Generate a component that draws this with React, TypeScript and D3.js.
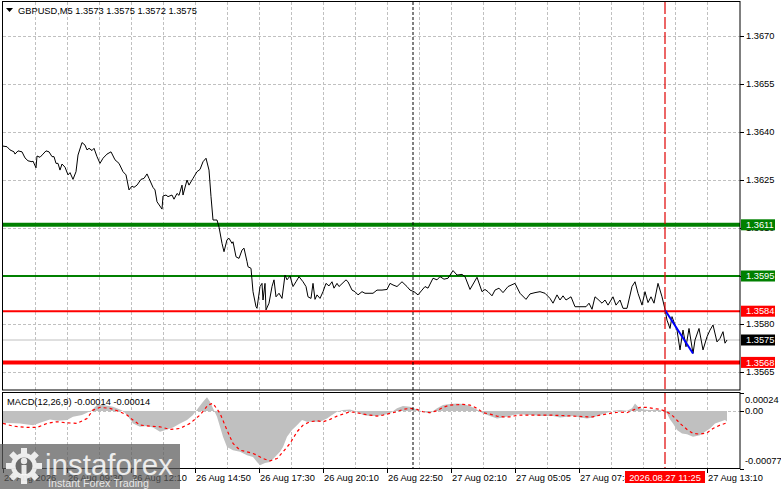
import React from 'react';
import * as d3 from 'd3';

// chart data (bar index = 5 minute candles from the left edge)
const priceLine: [number, number][] = [
  [0, 1.36356], [2, 1.36354], [3.5, 1.36344], [5.5, 1.36338], [6, 1.36331], [7.5, 1.36341], [9.5, 1.36338],
  [11, 1.36319], [12.5, 1.3631], [14.5, 1.36307], [15, 1.36309], [16.5, 1.36288], [17, 1.36325], [18.5, 1.36321],
  [20, 1.36331], [21.5, 1.36341], [23, 1.36338], [24.5, 1.36323], [25.5, 1.36323], [26.5, 1.36302], [27.5, 1.36302],
  [28.5, 1.36281], [29.5, 1.363], [31, 1.3629], [32.5, 1.36266], [33.5, 1.36273], [35, 1.36252], [36.5, 1.36276],
  [37.5, 1.36328], [39.5, 1.36367], [41, 1.36359], [42, 1.36344], [43, 1.36349], [44.5, 1.36342], [45.5, 1.36349],
  [47, 1.36323], [48.5, 1.36302], [50, 1.36318], [52, 1.36331], [54, 1.36338], [56, 1.36313], [58, 1.36302],
  [60, 1.36276], [61.5, 1.36266], [63, 1.36219], [64.5, 1.36231], [65.5, 1.36227], [67, 1.36234], [69, 1.36252],
  [70.5, 1.36255], [72, 1.36269], [73, 1.36255], [75, 1.36227], [76, 1.36219], [77, 1.36182], [79.5, 1.36159],
  [80, 1.362], [81.5, 1.36203], [82.5, 1.36198], [84.5, 1.36203], [85.5, 1.3619], [87, 1.36208], [88, 1.36202],
  [89.5, 1.36234], [90, 1.36203], [92, 1.3625], [93, 1.36234], [95, 1.36255], [97, 1.36276], [98.5, 1.36283],
  [100, 1.36307], [101.5, 1.36318], [103, 1.36281], [104, 1.36198], [105, 1.36125], [107, 1.36125], [108, 1.36103],
  [109.5, 1.36052], [110.5, 1.36026], [112, 1.36063], [113, 1.36068], [114.5, 1.36052], [115, 1.36057],
  [116.5, 1.3601], [118, 1.36005], [119.5, 1.36031], [120.5, 1.36037], [122, 1.35995], [122.5, 1.35979],
  [124, 1.35974], [125, 1.35901], [126.5, 1.35854], [127, 1.35849], [128.5, 1.35917], [129.5, 1.35927],
  [130, 1.35875], [131, 1.35927], [131.5, 1.35844], [133, 1.35865], [134.5, 1.35917], [135.5, 1.35938],
  [136.5, 1.35885], [138, 1.35896], [139.5, 1.3588], [141, 1.35953], [142, 1.35938], [143.5, 1.3595],
  [145, 1.35917], [146.5, 1.35932], [148, 1.35948], [150, 1.35932], [151.5, 1.35917], [152.5, 1.35885],
  [154, 1.3588], [155, 1.35927], [156, 1.35877], [157, 1.35891], [158.5, 1.3588], [160, 1.35901], [161.5, 1.35927],
  [163, 1.35919], [164.5, 1.35932], [165.5, 1.35912], [167, 1.35927], [168, 1.35917], [170, 1.35929],
  [171.5, 1.35938], [172.5, 1.35932], [174.5, 1.35906], [176, 1.35901], [177.5, 1.35891], [179.5, 1.35901],
  [181, 1.35896], [185, 1.35896], [187, 1.35906], [189.5, 1.35906], [192, 1.35908], [193.5, 1.35927],
  [195, 1.35922], [197, 1.35917], [199.5, 1.35932], [202, 1.35917], [203.5, 1.35906], [205.5, 1.35901],
  [207.5, 1.35891], [209.5, 1.35906], [211, 1.35917], [212.5, 1.35912], [215, 1.35943], [217, 1.35938],
  [218.5, 1.35948], [220.5, 1.3594], [222.5, 1.35943], [225, 1.35967], [227, 1.35953], [229.5, 1.35955],
  [231, 1.35948], [233.5, 1.35908], [237, 1.35946], [239.5, 1.35901], [241, 1.35908], [242.5, 1.35901],
  [244.5, 1.35888], [246, 1.35906], [248, 1.35912], [250, 1.35898], [252.5, 1.35917], [256, 1.35927],
  [258.5, 1.35896], [261.5, 1.35877], [263.5, 1.35894], [266, 1.35898], [268.5, 1.35901], [271, 1.35896],
  [273.5, 1.3588], [275, 1.35865], [277, 1.35891], [278.5, 1.35875], [280, 1.35888], [281.5, 1.35875],
  [284, 1.35885], [286, 1.35854], [288.5, 1.35854], [291.5, 1.35854], [293, 1.35865], [294.5, 1.35846],
  [296, 1.35885], [297.5, 1.35877], [299.5, 1.35865], [301, 1.35875], [302.5, 1.35859], [305, 1.35885],
  [306.5, 1.35859], [308.5, 1.35875], [310, 1.35849], [312, 1.35849], [314.5, 1.35917], [316, 1.35932],
  [317.5, 1.35896], [319.5, 1.35859], [321, 1.35901], [322.5, 1.35867], [324, 1.35885], [325.5, 1.35865],
  [327.5, 1.35927], [329.5, 1.35885], [331, 1.35846], [332, 1.35812], [333.5, 1.35786], [334.5, 1.35823],
  [336, 1.35797], [337, 1.35781], [338.5, 1.35719], [340, 1.35781], [341.5, 1.35729], [343, 1.35786],
  [345, 1.35708], [346, 1.3575], [348, 1.35786], [350, 1.35719], [352, 1.3576], [353.5, 1.35781],
  [355, 1.35797], [357, 1.35744], [358.5, 1.35755], [360, 1.35776], [361, 1.3574], [362, 1.3575],
];

const macdHistogram: [number, number][] = [
  [0, -0.000156], [8.5, -0.000164], [15, -0.000187], [20, -0.000142], [23.5, -0.000111], [27.5, -0.000129],
  [32, -0.00012], [35, -0.000076], [39.5, -0.000053], [42, -0.000022], [44.5, 0.000013], [47, 0.00008],
  [50, 0.00008], [55, 0.000058], [58.5, 0.000022], [60, 0], [62, -0.000053], [65, -0.000164], [68.5, -0.000209],
  [72, -0.0002], [75, -0.000218], [78.5, -0.000276], [82, -0.000244], [85, -0.000218], [88.5, -0.000164],
  [92, -0.00012], [95, -0.000053], [97.5, 0.000036], [100, 0.000124], [102, 0.000182], [103.5, 0.000124],
  [105, 0.000036], [107, -0.000076], [108.5, -0.000209], [110, -0.000342], [112, -0.000476], [115, -0.00052],
  [118.5, -0.000542], [122, -0.000587], [125, -0.000609], [127, -0.000676], [128.5, -0.00072], [131, -0.000689],
  [133.5, -0.000676], [136, -0.000609], [138.5, -0.000542], [140, -0.000476], [142, -0.000342], [144.5, -0.000253],
  [147, -0.000187], [149.5, -0.00012], [152, -0.000142], [155, -0.000142], [158.5, -0.000142], [162, -0.000098],
  [164.5, -0.000053], [167, -0.000009], [170, 0.000013], [173.5, 0.000022], [177, -0.000009], [180, -0.000053],
  [183.5, -0.000067], [187, -0.000067], [190, -0.000053], [193.5, -0.000031], [197, 0.000036], [200, 0.000067],
  [203.5, 0.000058], [207, 0.000022], [210, -0.000009], [213.5, -0.000031], [217, 0.000036], [220, 0.00008],
  [223.5, 0.000093], [227, 0.000102], [230, 0.000093], [233.5, 0.000067], [237, 0.000022], [240, -0.000031],
  [243.5, -0.000067], [247, -0.000098], [250, -0.000084], [253.5, -0.000067], [255, -0.000053], [258.5, -0.00004],
  [262, -0.000053], [265, -0.000053], [268.5, -0.000067], [272, -0.000067], [275, -0.000067], [278.5, -0.000084],
  [282, -0.000076], [285, -0.000067], [288.5, -0.000084], [292, -0.000098], [295, -0.000084], [298.5, -0.000053],
  [302, -0.000022], [305, 0.000004], [308.5, 0.000013], [312, 0.000004], [314.5, 0.000036], [316, 0.000102],
  [317.5, 0.000058], [320, 0.000022], [323.5, 0.000013], [327, 0.000022], [330, 0], [332, -0.000031],
  [333.5, -0.000111], [335, -0.000164], [337, -0.000253], [339.5, -0.000298], [342, -0.000307], [345, -0.000342],
  [348.5, -0.00032], [351, -0.000276], [353.5, -0.000231], [356, -0.000164], [358.5, -0.000142], [361, -0.00012],
  [362, -0.00014],
];

const macdSignal: [number, number][] = [
  [0, -0.000164], [5, -0.0002], [12, -0.000218], [17, -0.000218], [22, -0.000164], [27, -0.000142], [32, -0.000156],
  [37, -0.000164], [42, -0.000098], [45, 0.000013], [48.5, 0.000049], [53.5, 0.000036], [58.5, -0.000009],
  [62, -0.000053], [65, -0.00012], [68.5, -0.000187], [73.5, -0.0002], [78.5, -0.000209], [83.5, -0.000244],
  [88.5, -0.000231], [93.5, -0.000164], [98.5, -0.000053], [102.5, 0.00008], [105, 0.000102], [108.5, -0.000031],
  [112, -0.000253], [115, -0.000431], [118.5, -0.00052], [122, -0.000542], [125, -0.000564], [127, -0.000587],
  [130, -0.000631], [133.5, -0.000662], [137, -0.000631], [140, -0.000542], [143.5, -0.000431], [147, -0.000276],
  [150, -0.000187], [153.5, -0.000142], [157, -0.000129], [160, -0.000142], [163.5, -0.000111], [167, -0.000067],
  [170, -0.00004], [173.5, -0.000009], [177, -0.000022], [180, -0.00004], [183.5, -0.000053], [187, -0.000067],
  [190, -0.000053], [193.5, -0.000031], [197, -0.000009], [200, 0.000022], [203.5, 0.000036], [207, 0.000022],
  [210, -0.000009], [213.5, -0.000022], [217, 0.000004], [220, 0.000049], [223.5, 0.00008], [227, 0.000084],
  [230, 0.000089], [233.5, 0.00008], [237, 0.000036], [240, -0.000022], [243.5, -0.00004], [247, -0.000067],
  [250, -0.000076], [253.5, -0.000076], [255, -0.000067], [258.5, -0.000053], [265, -0.000053], [272, -0.000053],
  [278.5, -0.000058], [285, -0.000067], [292, -0.000076], [295, -0.000076], [298.5, -0.000053], [302, -0.00004],
  [305, -0.000022], [308.5, -0.000013], [312, -0.000022], [315, 0.000013], [318.5, 0.000049], [322, 0.000049],
  [325, 0.000036], [328.5, 0.000022], [332, -0.000009], [335, -0.000067], [338.5, -0.000164], [342, -0.000244],
  [345, -0.000298], [348.5, -0.000307], [352, -0.00029], [355, -0.000231], [358.5, -0.000187], [362, -0.000156],
];

const trendLine: [number, number][] = [[331, 1.35844], [345, 1.35708]];

const priceTicks = [1.367, 1.3655, 1.364, 1.3625, 1.361, 1.3595, 1.358, 1.3565];
const supportLevels = [1.3584, 1.3568];
const resistanceLevels = [1.3611, 1.3595];
const currentPrice = 1.3575;

const timeTicks = [0, 32, 64, 96, 128, 160, 192, 224, 256, 288, 352];
const timeLabels = [
  '26 Aug 2026', '26 Aug 09:30', '26 Aug 12:10', '26 Aug 14:50', '26 Aug 17:30', '26 Aug 20:10',
  '26 Aug 22:50', '27 Aug 02:10', '27 Aug 05:05', '27 Aug 07:45', '27 Aug 13:10',
];
const daySeparatorBar = 205;
const cursorBar = 331;
const cursorLabel = '2026.08.27 11:25';

const macdTicks = [0.00024, 0, -0.00077];
const macdTickLabels = ['0.00024', '0.00', '-0.00077'];

const FONT = '"Liberation Sans", Arial, sans-serif';

export default function App() {
  const x = d3.scaleLinear().domain([0, 368.5]).range([3, 740]);
  const y = d3.scaleLinear().domain([1.3565, 1.367]).range([372, 36]);
  const ym = d3.scaleLinear().domain([-0.00077, 0.00024]).range([469, 393]);

  const line = d3.line<[number, number]>().x(d => x(d[0])).y(d => y(d[1]));
  const sigLine = d3.line<[number, number]>().x(d => x(d[0])).y(d => ym(d[1]));
  const histArea = d3.area<[number, number]>().x(d => x(d[0])).y0(ym(0)).y1(d => ym(d[1]));

  const gridBars = d3.range(16, 368, 16);
  const lvlWidth = (p: number) => (p === 1.3611 || p === 1.3568 ? 4 : 2);

  const levelBox = (p: number, fill: string, key: string) => (
    <g key={key}>
      <rect x={741} y={y(p) - 5.5} width={34} height={11} fill={fill} />
      <text x={746} y={y(p)} dy="0.35em" fill="#fff" fontSize={9.3}>{p.toFixed(4)}</text>
    </g>
  );

  return (
    <div style={{ position: 'fixed', left: 0, top: 0 }}>
      <svg width={781} height={489} style={{ display: 'block', background: '#fff' }} fontFamily={FONT}>
        <defs>
          <clipPath id="mainClip"><rect x={2} y={2} width={738} height={388} /></clipPath>
          <clipPath id="macdClip"><rect x={2} y={392} width={738} height={76} /></clipPath>
        </defs>

        {/* grid */}
        <g stroke="#c0c0c0" strokeWidth={1} strokeDasharray="3,2">
          {gridBars.map(b => (
            <g key={b}>
              <line x1={Math.round(x(b)) + 0.5} x2={Math.round(x(b)) + 0.5} y1={2} y2={390} />
              <line x1={Math.round(x(b)) + 0.5} x2={Math.round(x(b)) + 0.5} y1={392} y2={468} />
            </g>
          ))}
          {priceTicks.map(p => (
            <line key={p} x1={3} x2={740} y1={Math.round(y(p)) + 0.5} y2={Math.round(y(p)) + 0.5} />
          ))}
          <line x1={3} x2={740} y1={Math.round(ym(0)) + 0.5} y2={Math.round(ym(0)) + 0.5} />
        </g>

        {/* main pane */}
        <g clipPath="url(#mainClip)">
          <line x1={3} x2={740} y1={y(currentPrice)} y2={y(currentPrice)} stroke="#c0c0c0" strokeWidth={1} />
          {resistanceLevels.map(p => (
            <line key={p} x1={3} x2={740} y1={y(p)} y2={y(p)} stroke="#008000" strokeWidth={lvlWidth(p)} />
          ))}
          {supportLevels.map(p => (
            <line key={p} x1={3} x2={740} y1={y(p)} y2={y(p)} stroke="#ff0000" strokeWidth={lvlWidth(p)} />
          ))}
          <path d={line(priceLine) || ''} fill="none" stroke="#000" strokeWidth={1} />
          <path d={line(trendLine) || ''} fill="none" stroke="#0000ff" strokeWidth={2} />
        </g>

        {/* macd pane */}
        <g clipPath="url(#macdClip)">
          <path d={histArea(macdHistogram) || ''} fill="#c0c0c0" />
          <path d={sigLine(macdSignal) || ''} fill="none" stroke="#ff0000" strokeWidth={1.2} strokeDasharray="3,3" />
        </g>

        {/* vertical markers */}
        <line x1={x(daySeparatorBar)} x2={x(daySeparatorBar)} y1={2} y2={468} stroke="#000" strokeWidth={1} strokeDasharray="3,2" />
        <line x1={x(cursorBar)} x2={x(cursorBar)} y1={2} y2={468} stroke="#e00000" strokeWidth={1.2} strokeDasharray="12,3" />

        {/* frames */}
        <g fill="none" stroke="#000" strokeWidth={1}>
          <rect x={2.5} y={1.5} width={737.5} height={388.5} />
          <rect x={2.5} y={392.5} width={737.5} height={76} />
        </g>

        {/* price axis */}
        <g fontSize={9.3} fill="#000">
          {priceTicks.map(p => (
            <g key={p}>
              <line x1={740} x2={744} y1={Math.round(y(p)) + 0.5} y2={Math.round(y(p)) + 0.5} stroke="#000" />
              <text x={746} y={y(p)} dy="0.35em">{p.toFixed(4)}</text>
            </g>
          ))}
          {macdTicks.map((v, i) => (
            <g key={v}>
              <line x1={740} x2={744} y1={Math.round(ym(v)) + 0.5} y2={Math.round(ym(v)) + 0.5} stroke="#000" />
              <text x={745} y={i === 0 ? ym(v) + 7 : i === 2 ? ym(v) - 8 : ym(v)} dy="0.35em">{macdTickLabels[i]}</text>
            </g>
          ))}
        </g>
        {resistanceLevels.map(p => levelBox(p, '#008000', 'r' + p))}
        {supportLevels.map(p => levelBox(p, '#ff0000', 's' + p))}
        {levelBox(currentPrice, '#000', 'cur')}

        {/* time axis */}
        <g fontSize={9.3} fill="#000">
          {timeTicks.map((b, i) => (
            <g key={b}>
              <line x1={Math.round(x(b)) + 0.5} x2={Math.round(x(b)) + 0.5} y1={469} y2={473} stroke="#000" />
              <text x={x(b) + 1} y={481}>{timeLabels[i]}</text>
            </g>
          ))}
        </g>
        <rect x={x(cursorBar) - 40} y={471} width={80} height={12} fill="#ff0000" />
        <text x={x(cursorBar)} y={481} textAnchor="middle" fontSize={9.3} fill="#fff">{cursorLabel}</text>

        {/* titles */}
        <path d="M6,8 L13,8 L9.5,12 Z" fill="#000" />
        <text x={18} y={14} fontSize={9.3} fill="#000">GBPUSD,M5  1.3573 1.3575 1.3572 1.3575</text>
        <text x={7} y={405} fontSize={9.3} fill="#000">MACD(12,26,9) -0.00014 -0.00014</text>

        {/* watermark */}
        <g>
          <rect x={0} y={444} width={180} height={45} fill="#5a5a5a" opacity={0.72} />
          <g fill="#fff" opacity={0.85}>
            {d3.range(8).map(i => (
              <rect key={i} x={21} y={448} width={6} height={6}
                transform={`rotate(${i * 45} 24 466)`} />
            ))}
            <circle cx={24} cy={466} r={13} />
          </g>
          <circle cx={24} cy={466} r={8.5} fill="#6a6a6a" />
          <g fill="#fff" opacity={0.85}>
            <circle cx={24} cy={461} r={3.2} />
            <rect x={21.5} y={465} width={5} height={10} />
          </g>
          <text x={45} y={475} fontSize={29.5} fill="#fff" opacity={0.85}>instaforex</text>
          <text x={48} y={487} fontSize={10.7} fill="#fff" opacity={0.8}>Instant Forex Trading</text>
        </g>
      </svg>
    </div>
  );
}
